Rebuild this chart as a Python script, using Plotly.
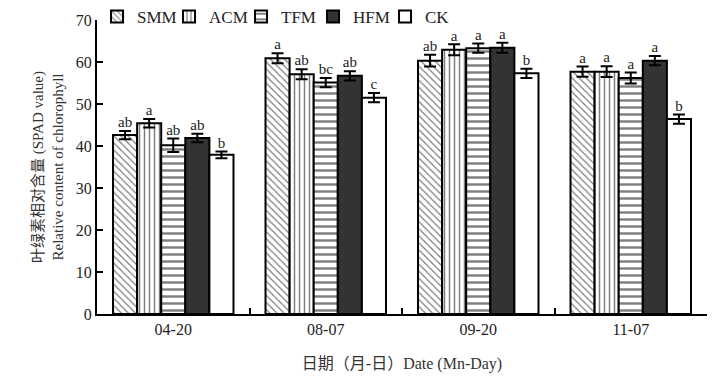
import plotly.graph_objects as go

dates = ["04-20", "08-07", "09-20", "11-07"]
series = ["SMM", "ACM", "TFM", "HFM", "CK"]
smm = [42.6, 60.9, 60.3, 57.7]
acm = [45.4, 57.1, 62.9, 57.7]
tfm = [40.2, 55.1, 63.3, 56.2]
hfm = [41.9, 56.7, 63.4, 60.3]
ck = [37.9, 51.5, 57.3, 46.4]
smm_err = [1.0, 1.2, 1.4, 1.2]
acm_err = [1.0, 1.2, 1.3, 1.3]
tfm_err = [1.6, 1.1, 1.1, 1.3]
hfm_err = [1.0, 1.1, 1.2, 1.1]
ck_err = [0.8, 1.1, 1.1, 1.1]
smm_sig = ["ab", "a", "ab", "a"]
acm_sig = ["a", "ab", "a", "a"]
tfm_sig = ["ab", "bc", "a", "a"]
hfm_sig = ["ab", "ab", "a", "a"]
ck_sig = ["b", "c", "b", "b"]

values = [smm, acm, tfm, hfm, ck]
errs = [smm_err, acm_err, tfm_err, hfm_err, ck_err]
sigs = [smm_sig, acm_sig, tfm_sig, hfm_sig, ck_sig]

styles = [
    dict(color="white", pattern=dict(shape="\\", fgcolor="black", bgcolor="white", size=5, solidity=0.25)),
    dict(color="white", pattern=dict(shape="|", fgcolor="black", bgcolor="white", size=5, solidity=0.3)),
    dict(color="white", pattern=dict(shape="-", fgcolor="black", bgcolor="white", size=7, solidity=0.35)),
    dict(color="#333333"),
    dict(color="white"),
]

FONT = "Liberation Serif, Noto Sans CJK SC, serif"

fig = go.Figure()
for name, v, e, st in zip(series, values, errs, styles):
    fig.add_trace(go.Bar(
        x=dates, y=v, name=name, offsetgroup=name,
        marker=dict(line=dict(color="black", width=2), **st),
        error_y=dict(type="data", array=e, visible=True, color="black", thickness=2, width=6),
    ))
for name, v, e, s in zip(series, values, errs, sigs):
    fig.add_trace(go.Scatter(
        x=dates, y=[a + b for a, b in zip(v, e)], text=s, mode="text",
        textposition="top center", offsetgroup=name, showlegend=False,
        textfont=dict(family=FONT, size=15, color="#222"), hoverinfo="skip",
    ))

fig.update_layout(
    width=718, height=383,
    margin=dict(l=89, r=19, t=12, b=77, autoexpand=False),
    barmode="group", bargap=0.21, bargroupgap=0,
    scattermode="group", scattergap=0.21,
    plot_bgcolor="white", paper_bgcolor="white",
    font=dict(family=FONT, size=15, color="#222"),
    showlegend=True,
    legend=dict(orientation="h", xref="container", yref="container",
                x=0.124, y=1 - 9 / 383, xanchor="left", yanchor="middle",
                font=dict(family=FONT, size=17, color="#222"), bgcolor="rgba(0,0,0,0)",
                entrywidth=27, itemwidth=30, traceorder="normal"),
    xaxis=dict(
        type="category", showline=True, linecolor="black", linewidth=2,
        ticks="inside", tickson="boundaries", ticklen=6, tickwidth=2, tickcolor="black",
        tickfont=dict(family=FONT, size=16, color="#222"),
        title=dict(text="日期（月-日）Date (Mn-Day)", font=dict(family=FONT, size=16, color="#333"), standoff=21),
        showgrid=False, automargin=False,
    ),
    yaxis=dict(
        range=[0, 70], dtick=10, showline=True, linecolor="black", linewidth=2,
        ticks="inside", ticklen=6, tickwidth=2, tickcolor="black",
        tickfont=dict(family=FONT, size=16, color="#222"),
        title=dict(text="叶绿素相对含量 (SPAD value)<br>Relative content of chlorophyll",
                   font=dict(family=FONT, size=15, color="#333"), standoff=9),
        showgrid=False, zeroline=False, automargin=False,
    ),
)

fig.write_html("out.html")
